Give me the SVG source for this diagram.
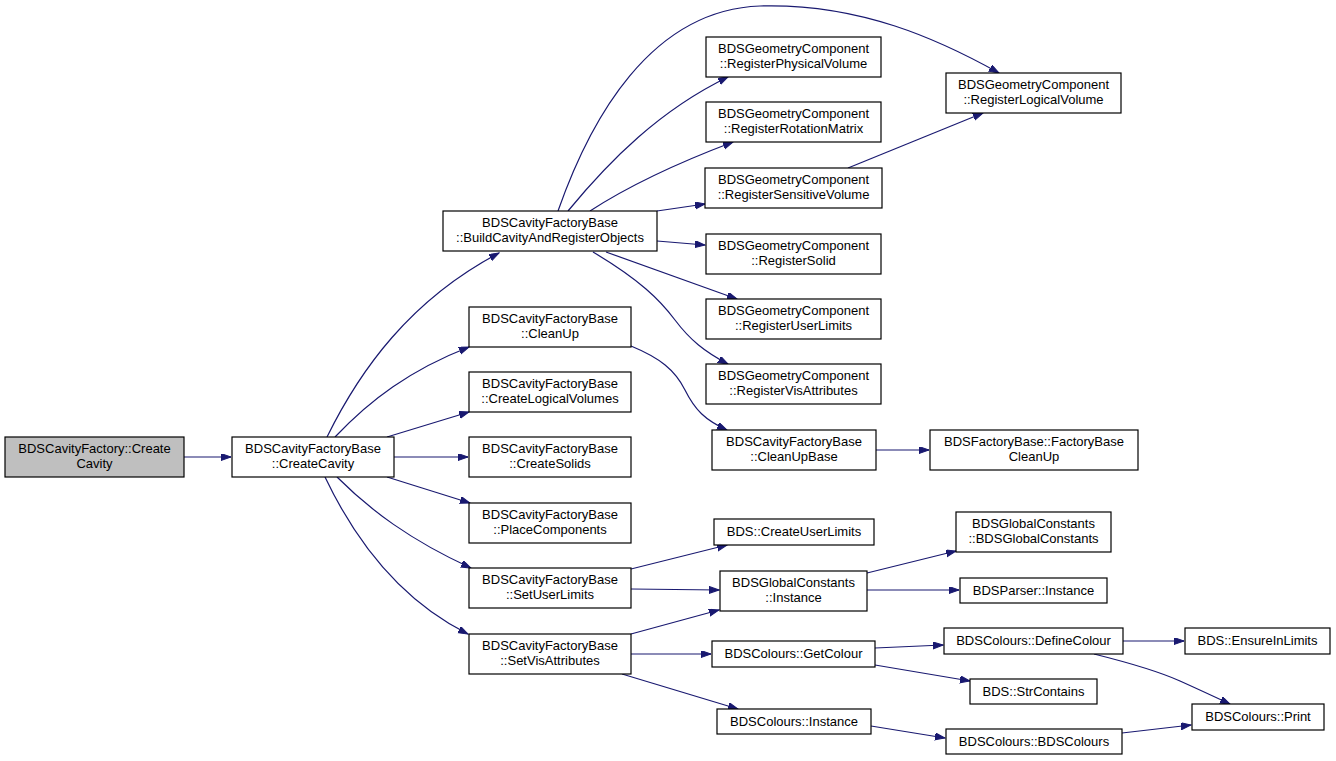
<svg xmlns="http://www.w3.org/2000/svg" width="1336" height="761" viewBox="0 0 1336 761">
<style>
.n rect{fill:#ffffff;stroke:#000000;stroke-width:1.2}
.n text{font-family:"Liberation Sans",Arial,sans-serif;font-size:13px;fill:#000000;text-anchor:middle}
#n0 rect{fill:#bfbfbf}
.e path{fill:none;stroke:#191970;stroke-width:1.2}
</style>
<defs>
<marker id="a" markerUnits="userSpaceOnUse" markerWidth="11" markerHeight="8" refX="10" refY="3.5" orient="auto">
<path d="M0,0 L10,3.5 L0,7 z" fill="#191970" stroke="#191970" stroke-width="1"/>
</marker>
</defs>
<rect width="1336" height="761" fill="#ffffff"/>
<g class="e" marker-end="url(#a)">
<path d="M184,457 L231,457" marker-end="url(#a)"/>
<path d="M327,437 C360,370 410,300 499,253" marker-end="url(#a)"/>
<path d="M335,437 C370,400 410,370 469,347" marker-end="url(#a)"/>
<path d="M387,437 L469,412" marker-end="url(#a)"/>
<path d="M394,457 L468,457" marker-end="url(#a)"/>
<path d="M387,477 L470,503" marker-end="url(#a)"/>
<path d="M337,477 C370,510 410,540 471,568" marker-end="url(#a)"/>
<path d="M325,477 C355,540 400,600 468,634" marker-end="url(#a)"/>
<path d="M568,211 C610,160 660,110 728,77" marker-end="url(#a)"/>
<path d="M590,211 C630,185 680,162 733,142" marker-end="url(#a)"/>
<path d="M657,211 L705,204" marker-end="url(#a)"/>
<path d="M657,241 L705,245" marker-end="url(#a)"/>
<path d="M606,252 L737,299" marker-end="url(#a)"/>
<path d="M593,252 C640,280 660,300 675,320 C690,340 705,352 728,364" marker-end="url(#a)"/>
<path d="M558,211 C590,120 650,10 760,6 C860,3 940,40 999,73" marker-end="url(#a)"/>
<path d="M848,168 L983,113" marker-end="url(#a)"/>
<path d="M631,346 C660,358 675,370 685,390 C695,410 705,420 727,430" marker-end="url(#a)"/>
<path d="M876,450 L929,450" marker-end="url(#a)"/>
<path d="M631,569 L727,545" marker-end="url(#a)"/>
<path d="M631,589 L719,590" marker-end="url(#a)"/>
<path d="M631,634 L719,610" marker-end="url(#a)"/>
<path d="M631,654 L711,654" marker-end="url(#a)"/>
<path d="M622,674 L738,709" marker-end="url(#a)"/>
<path d="M867,573 L956,551" marker-end="url(#a)"/>
<path d="M867,590 L959,590" marker-end="url(#a)"/>
<path d="M875,648 L943,645" marker-end="url(#a)"/>
<path d="M875,665 L970,681" marker-end="url(#a)"/>
<path d="M871,726 L945,738" marker-end="url(#a)"/>
<path d="M1123,641 L1184,641" marker-end="url(#a)"/>
<path d="M1094,654 C1130,663 1160,672 1180,681 C1200,690 1215,697 1230,704" marker-end="url(#a)"/>
<path d="M1122,733 L1191,725" marker-end="url(#a)"/>
</g>
<g class="n" id="n0"><rect x="5" y="437" width="179" height="40"/><text x="94.5" y="453">BDSCavityFactory::Create</text><text x="94.5" y="468">Cavity</text></g>
<g class="n" id="n1"><rect x="232" y="437" width="162" height="40"/><text x="313" y="453">BDSCavityFactoryBase</text><text x="313" y="468">::CreateCavity</text></g>
<g class="n" id="n2"><rect x="443" y="211" width="214" height="40"/><text x="550" y="227">BDSCavityFactoryBase</text><text x="550" y="242">::BuildCavityAndRegisterObjects</text></g>
<g class="n" id="n3"><rect x="469" y="307" width="162" height="40"/><text x="550" y="323">BDSCavityFactoryBase</text><text x="550" y="338">::CleanUp</text></g>
<g class="n" id="n4"><rect x="469" y="372" width="162" height="40"/><text x="550" y="388">BDSCavityFactoryBase</text><text x="550" y="403">::CreateLogicalVolumes</text></g>
<g class="n" id="n5"><rect x="469" y="437" width="162" height="40"/><text x="550" y="453">BDSCavityFactoryBase</text><text x="550" y="468">::CreateSolids</text></g>
<g class="n" id="n6"><rect x="469" y="503" width="162" height="40"/><text x="550" y="519">BDSCavityFactoryBase</text><text x="550" y="534">::PlaceComponents</text></g>
<g class="n" id="n7"><rect x="469" y="568" width="162" height="40"/><text x="550" y="584">BDSCavityFactoryBase</text><text x="550" y="599">::SetUserLimits</text></g>
<g class="n" id="n8"><rect x="469" y="634" width="162" height="40"/><text x="550" y="650">BDSCavityFactoryBase</text><text x="550" y="665">::SetVisAttributes</text></g>
<g class="n" id="n9"><rect x="706" y="37" width="175" height="40"/><text x="793.5" y="53">BDSGeometryComponent</text><text x="793.5" y="68">::RegisterPhysicalVolume</text></g>
<g class="n" id="n10"><rect x="706" y="102" width="175" height="40"/><text x="793.5" y="118">BDSGeometryComponent</text><text x="793.5" y="133">::RegisterRotationMatrix</text></g>
<g class="n" id="n11"><rect x="705" y="168" width="177" height="40"/><text x="793.5" y="184">BDSGeometryComponent</text><text x="793.5" y="199">::RegisterSensitiveVolume</text></g>
<g class="n" id="n12"><rect x="706" y="234" width="175" height="40"/><text x="793.5" y="250">BDSGeometryComponent</text><text x="793.5" y="265">::RegisterSolid</text></g>
<g class="n" id="n13"><rect x="706" y="299" width="175" height="40"/><text x="793.5" y="315">BDSGeometryComponent</text><text x="793.5" y="330">::RegisterUserLimits</text></g>
<g class="n" id="n14"><rect x="706" y="364" width="175" height="40"/><text x="793.5" y="380">BDSGeometryComponent</text><text x="793.5" y="395">::RegisterVisAttributes</text></g>
<g class="n" id="n15"><rect x="946" y="73" width="175" height="40"/><text x="1033.5" y="89">BDSGeometryComponent</text><text x="1033.5" y="104">::RegisterLogicalVolume</text></g>
<g class="n" id="n16"><rect x="712" y="430" width="164" height="40"/><text x="794" y="446">BDSCavityFactoryBase</text><text x="794" y="461">::CleanUpBase</text></g>
<g class="n" id="n17"><rect x="930" y="430" width="208" height="40"/><text x="1034" y="446">BDSFactoryBase::FactoryBase</text><text x="1034" y="461">CleanUp</text></g>
<g class="n" id="n18"><rect x="714" y="519" width="160" height="26"/><text x="794" y="536">BDS::CreateUserLimits</text></g>
<g class="n" id="n19"><rect x="720" y="571" width="147" height="40"/><text x="793.5" y="587">BDSGlobalConstants</text><text x="793.5" y="602">::Instance</text></g>
<g class="n" id="n20"><rect x="712" y="641" width="163" height="26"/><text x="793.5" y="658">BDSColours::GetColour</text></g>
<g class="n" id="n21"><rect x="717" y="709" width="154" height="25"/><text x="794" y="726">BDSColours::Instance</text></g>
<g class="n" id="n22"><rect x="956" y="512" width="155" height="40"/><text x="1033.5" y="528">BDSGlobalConstants</text><text x="1033.5" y="543">::BDSGlobalConstants</text></g>
<g class="n" id="n23"><rect x="960" y="578" width="147" height="25"/><text x="1033.5" y="595">BDSParser::Instance</text></g>
<g class="n" id="n24"><rect x="944" y="628" width="179" height="26"/><text x="1033.5" y="645">BDSColours::DefineColour</text></g>
<g class="n" id="n25"><rect x="970" y="679" width="127" height="25"/><text x="1033.5" y="696">BDS::StrContains</text></g>
<g class="n" id="n26"><rect x="946" y="729" width="176" height="25"/><text x="1034" y="746">BDSColours::BDSColours</text></g>
<g class="n" id="n27"><rect x="1185" y="628" width="145" height="26"/><text x="1257.5" y="645">BDS::EnsureInLimits</text></g>
<g class="n" id="n28"><rect x="1192" y="704" width="132" height="26"/><text x="1258" y="721">BDSColours::Print</text></g>
</svg>
